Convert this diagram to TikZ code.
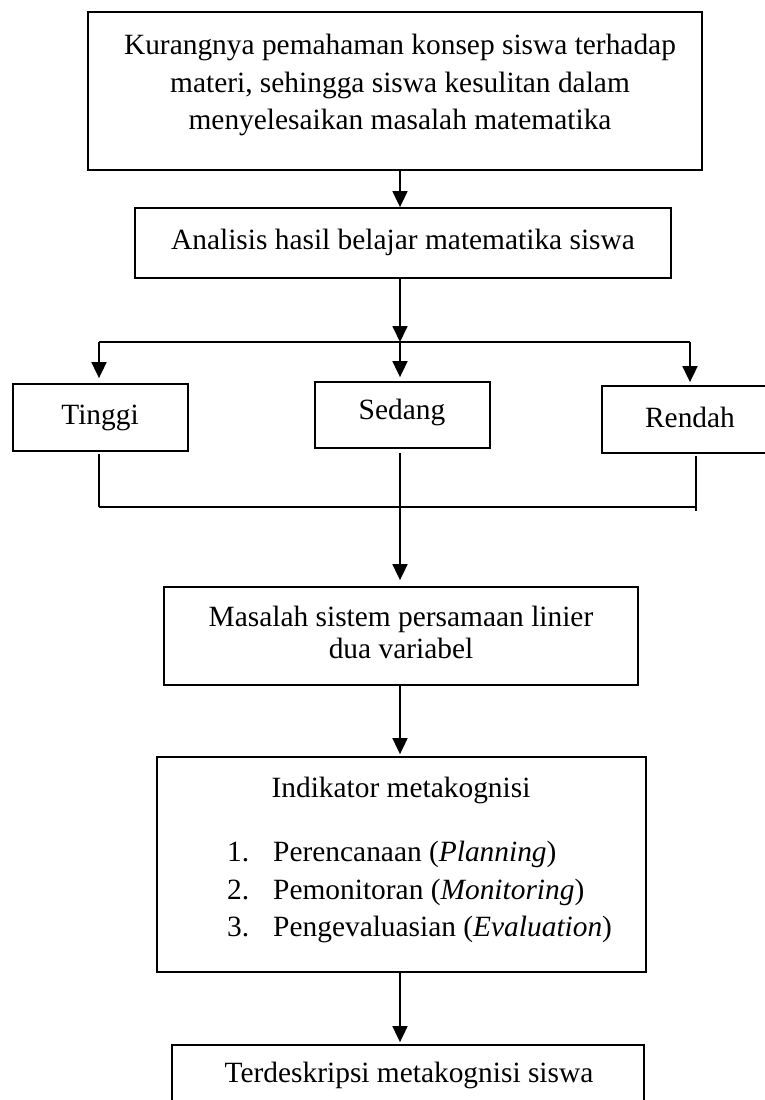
\documentclass[tikz,border=0pt]{standalone}
\usepackage{fontspec}
\setmainfont{Liberation Serif}
\usetikzlibrary{arrows.meta}
\begin{document}
\begin{tikzpicture}[x=1pt,y=-1pt,
  box/.style={draw, line width=1.8pt, inner sep=0pt},
  txt/.style={inner sep=0pt, anchor=base, font=\fontsize{29.4}{37.5}\selectfont},
  txtw/.style={txt, anchor=base west},
  conn/.style={line width=1.8pt},
  arr/.style={line width=1.8pt, -{Triangle[length=16pt,width=15pt]}}]
\useasboundingbox (0,0) rectangle (765,1100);
% boxes
\node[box, minimum width=614pt, minimum height=158pt] (top) at (395,91) {};
\node[box, minimum width=536pt, minimum height=70pt] (ana) at (403,243) {};
\node[box, minimum width=175pt, minimum height=67pt] (ting) at (100.5,417.5) {};
\node[box, minimum width=175pt, minimum height=66pt] (sed) at (402.5,415) {};
\node[box, minimum width=166pt, minimum height=67pt] (ren) at (685,419.5) {};
\node[box, minimum width=474pt, minimum height=98pt] (mas) at (401,636) {};
\node[box, minimum width=489pt, minimum height=215pt] (ind) at (401.5,864.5) {};
\node[box, minimum width=472pt, minimum height=75pt] (bot) at (408,1082.5) {};
% texts
\node[txt] (t1) at (400,54) {Kurangnya pemahaman konsep siswa terhadap};
\node[txt] (t2) at (400,92) {materi, sehingga siswa kesulitan dalam};
\node[txt] (t3) at (400,129) {menyelesaikan masalah matematika};
\node[txt] (ta) at (403,249) {Analisis hasil belajar matematika siswa};
\node[txt] (tt) at (100,424) {Tinggi};
\node[txt] (ts) at (402,419) {Sedang};
\node[txt] (tr) at (690,427) {Rendah};
\node[txt] (tm1) at (401,626) {Masalah sistem persamaan linier};
\node[txt] (tm2) at (401,658) {dua variabel};
\node[txt] (ti) at (401,797) {Indikator metakognisi};
\node[txtw] (n1) at (227,861) {1.};
\node[txtw] (n2) at (227,899) {2.};
\node[txtw] (n3) at (227,936) {3.};
\node[txtw] (i1) at (273,861) {Perencanaan (\textit{Planning})};
\node[txtw] (i2) at (273,899) {Pemonitoran (\textit{Monitoring})};
\node[txtw] (i3) at (273,936) {Pengevaluasian (\textit{Evaluation})};
\node[txt] (tb) at (409,1082) {Terdeskripsi metakognisi siswa};
% connectors
\coordinate (ax) at (400,0);
\coordinate (jl) at (99,342);
\coordinate (jc) at (400,342);
\coordinate (jr) at (690,342);
\coordinate (bl) at (99,507);
\coordinate (bc) at (400,507);
\coordinate (br) at (696,507);
\draw[arr] (top.south -| ax) -- (ana.north -| ax);
\draw[arr] (ana.south -| ax) -- (jc);
\draw[conn] (jl) -- (jr);
\draw[arr, shorten >=5pt] (jl) -- (jl |- ting.north);
\draw[arr, shorten >=4pt] (jc) -- (jc |- sed.north);
\draw[arr, shorten >=3pt] (jr) -- (jr |- ren.north);
\draw[conn, shorten <=2pt] (ting.south -| bl) -- (bl);
\draw[conn, shorten <=4pt] (sed.south -| bc) -- (bc);
\draw[conn, shorten <=2pt] (ren.south -| br) -- ([yshift=-4pt]br);
\draw[conn] (bl) -- (br);
\draw[arr, shorten >=6pt] (bc) -- (bc |- mas.north);
\draw[arr, shorten >=2pt] (mas.south -| ax) -- (ind.north -| ax);
\draw[arr, shorten >=2pt] (ind.south -| ax) -- (bot.north -| ax);
\end{tikzpicture}
\end{document}
